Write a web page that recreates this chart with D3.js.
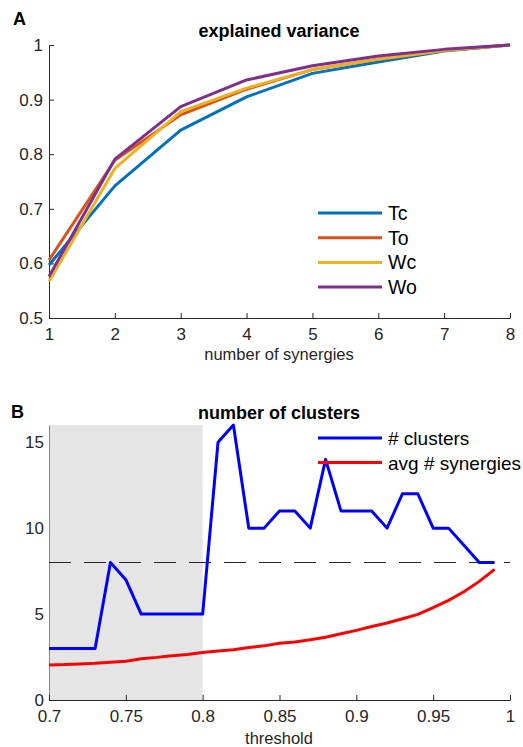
<!DOCTYPE html>
<html>
<head>
<meta charset="utf-8">
<script src="https://cdn.jsdelivr.net/npm/d3@7"></script>
<style>
  body { margin: 0; background: #fff; }
  svg { font-family: "Liberation Sans", Arial, Helvetica, sans-serif; }
  .tick text { font-size: 17px; fill: #262626; }
  .domain, .tick line { stroke: #262626; }
</style>
</head>
<body>
<svg width="523" height="747"></svg>
<script>
// panel A: explained variance vs number of synergies
const synergies = [1, 2, 3, 4, 5, 6, 7, 8];
const Tc = [0.597, 0.742, 0.844, 0.905, 0.948, 0.969, 0.989, 1.0];
const To = [0.606, 0.789, 0.872, 0.919, 0.955, 0.974, 0.990, 1.0];
const Wc = [0.567, 0.774, 0.878, 0.921, 0.955, 0.974, 0.990, 1.0];
const Wo = [0.576, 0.791, 0.887, 0.936, 0.962, 0.980, 0.992, 1.0];
const seriesNames = ['Tc', 'To', 'Wc', 'Wo'];
const seriesColors = ['#0072BD', '#D95319', '#EDB120', '#7E2F8E'];
const yTicksA = [0.5, 0.6, 0.7, 0.8, 0.9, 1];

// panel B: number of clusters vs threshold
const thresholds = [0.70, 0.71, 0.72, 0.73, 0.74, 0.75, 0.76, 0.77, 0.78, 0.79,
                    0.80, 0.81, 0.82, 0.83, 0.84, 0.85, 0.86, 0.87, 0.88, 0.89,
                    0.90, 0.91, 0.92, 0.93, 0.94, 0.95, 0.96, 0.97, 0.98, 0.99];
const clusters = [3, 3, 3, 3, 8, 7, 5, 5, 5, 5,
                  5, 15, 16, 10, 10, 11, 11, 10, 14, 11,
                  11, 11, 10, 12, 12, 10, 10, 9, 8, 8];
const avgSynergies = [2.04, 2.06, 2.10, 2.14, 2.20, 2.25, 2.40, 2.48, 2.58, 2.65,
                      2.76, 2.85, 2.93, 3.05, 3.15, 3.30, 3.38, 3.50, 3.65, 3.85,
                      4.05, 4.28, 4.48, 4.73, 4.98, 5.37, 5.80, 6.30, 6.90, 7.60];
const xTicksB = [0.7, 0.75, 0.8, 0.85, 0.9, 0.95, 1];
const yTicksB = [0, 5, 10, 15];
const shadedRange = [0.7, 0.8];
const refLevel = 8;

const svg = d3.select('svg');
const left = 49, right = 510;

// ---------- panel A ----------
const xA = d3.scaleLinear().domain([1, 8]).range([left, right]);
const yA = d3.scaleLinear().domain([0.5, 1]).range([318, 45]);

svg.append('g')
    .attr('transform', `translate(0, ${yA(0.5)})`)
    .call(d3.axisBottom(xA).tickValues(synergies).tickFormat(d3.format('')).tickSizeInner(-5).tickSizeOuter(0).tickPadding(10))
    .call(g => g.selectAll('text').attr('dy', '0.71em'));

svg.append('g')
    .attr('transform', `translate(${left}, 0)`)
    .call(d3.axisLeft(yA).tickValues(yTicksA).tickFormat(d3.format('')).tickSizeInner(-5).tickSizeOuter(0).tickPadding(6));

const lineA = d3.line()
    .x((d, i) => xA(synergies[i]))
    .y(d => yA(d));

[Tc, To, Wc, Wo].forEach((s, k) => {
    svg.append('path')
        .datum(s)
        .attr('fill', 'none')
        .attr('stroke', seriesColors[k])
        .attr('stroke-width', 3)
        .attr('stroke-linejoin', 'round')
        .attr('d', lineA);
});

const legA = svg.append('g');
seriesNames.forEach((n, k) => {
    const y = 213 + k * 24.7;
    legA.append('line')
        .attr('x1', 318).attr('x2', 382).attr('y1', y).attr('y2', y)
        .attr('stroke', seriesColors[k]).attr('stroke-width', 3);
    legA.append('text')
        .attr('x', 388).attr('y', y + 7)
        .attr('font-size', 19.5).attr('fill', '#000')
        .text(n);
});

svg.append('text')
    .attr('x', 279).attr('y', 37)
    .attr('text-anchor', 'middle')
    .attr('font-size', 18).attr('font-weight', 'bold')
    .text('explained variance');

svg.append('text')
    .attr('x', 279).attr('y', 360)
    .attr('text-anchor', 'middle')
    .attr('font-size', 16.5).attr('fill', '#262626')
    .text('number of synergies');

svg.append('text')
    .attr('x', 13).attr('y', 25)
    .attr('font-size', 18).attr('font-weight', 'bold')
    .text('A');

// ---------- panel B ----------
const xB = d3.scaleLinear().domain([0.7, 1]).range([left, right]);
const yB = d3.scaleLinear().domain([0, 16]).range([700, 425]);

svg.append('g')
    .attr('transform', `translate(${left}, 0)`)
    .call(d3.axisLeft(yB).tickValues(yTicksB).tickSizeInner(-5).tickSizeOuter(0).tickPadding(5));

svg.append('rect')
    .attr('x', xB(shadedRange[0]) + 0.5)
    .attr('y', yB(16))
    .attr('width', xB(shadedRange[1]) - xB(shadedRange[0]) - 0.5)
    .attr('height', yB(0) - yB(16))
    .attr('fill', '#e5e5e5');

svg.append('g')
    .attr('transform', `translate(0, ${yB(0)})`)
    .call(d3.axisBottom(xB).tickValues(xTicksB).tickFormat(d3.format('')).tickSizeInner(-5).tickSizeOuter(0).tickPadding(10))
    .call(g => g.selectAll('text').attr('dy', '0.71em'));

svg.append('line')
    .attr('x1', xB(0.7)).attr('x2', xB(1))
    .attr('y1', yB(refLevel)).attr('y2', yB(refLevel))
    .attr('stroke', '#262626').attr('stroke-width', 1)
    .attr('stroke-dasharray', '22,13');

const lineB = d3.line()
    .x((d, i) => xB(thresholds[i]))
    .y(d => yB(d));

svg.append('path')
    .datum(avgSynergies)
    .attr('fill', 'none')
    .attr('stroke', '#ff0000')
    .attr('stroke-width', 3)
    .attr('d', lineB);

svg.append('path')
    .datum(clusters)
    .attr('fill', 'none')
    .attr('stroke', '#0000ff')
    .attr('stroke-width', 3)
    .attr('stroke-linejoin', 'round')
    .attr('d', lineB);

const legB = svg.append('g');
[['# clusters', '#0000ff'], ['avg # synergies', '#ff0000']].forEach((d, k) => {
    const y = 438 + k * 24.5;
    legB.append('line')
        .attr('x1', 318).attr('x2', 382).attr('y1', y).attr('y2', y)
        .attr('stroke', d[1]).attr('stroke-width', 3);
    legB.append('text')
        .attr('x', 388).attr('y', y + 7)
        .attr('font-size', 19).attr('fill', '#000')
        .text(d[0]);
});

svg.append('text')
    .attr('x', 279).attr('y', 419)
    .attr('text-anchor', 'middle')
    .attr('font-size', 18).attr('font-weight', 'bold')
    .text('number of clusters');

svg.append('text')
    .attr('x', 279).attr('y', 744)
    .attr('text-anchor', 'middle')
    .attr('font-size', 16.5).attr('fill', '#262626')
    .text('threshold');

svg.append('text')
    .attr('x', 11).attr('y', 418)
    .attr('font-size', 18).attr('font-weight', 'bold')
    .text('B');
</script>
</body>
</html>
